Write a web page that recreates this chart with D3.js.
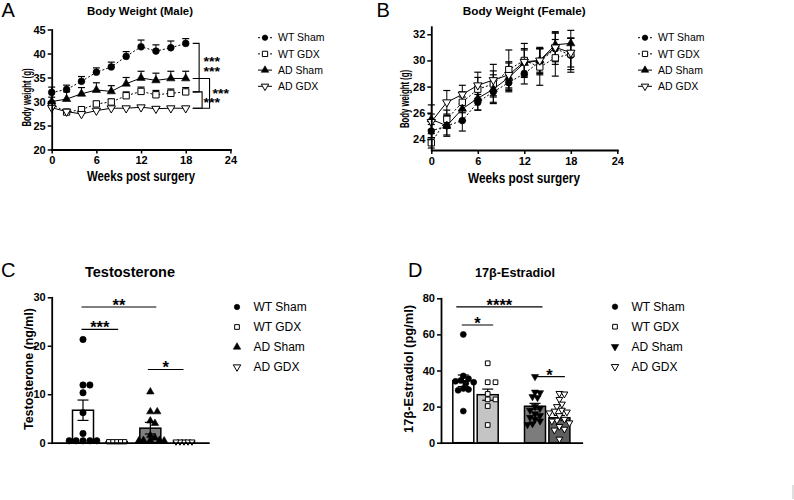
<!DOCTYPE html>
<html>
<head>
<meta charset="utf-8">
<script src="https://cdn.jsdelivr.net/npm/d3@7"></script>
<style>
  body { margin: 0; background: #fff; }
  svg { font-family: "Liberation Sans", Arial, sans-serif; }
</style>
</head>
<body>
<svg width="794" height="500"></svg>
<script>
// ---- data ----
var weeks = [0, 2, 4, 6, 8, 10, 12, 14, 16, 18];
var groups = ["WT Sham", "WT GDX", "AD Sham", "AD GDX"];
var weekTicks = [0, 6, 12, 18, 24];

// A: male body weight (g), mean and sem
var maleWTSham    = [31.9, 32.5, 34.2, 36.1, 37.2, 39.4, 41.4, 40.5, 41.2, 42.1];
var maleWTShamErr = [1.1, 0.9, 1.0, 0.9, 1.0, 1.0, 1.4, 1.3, 1.4, 1.0];
var maleWTGDX     = [29.4, 27.8, 28.3, 29.5, 29.9, 31.2, 32.1, 31.4, 31.7, 32.0];
var maleWTGDXErr  = [0.6, 0.3, 0.5, 0.5, 0.6, 0.8, 0.9, 0.9, 0.9, 0.9];
var maleADSham    = [30.0, 30.5, 31.6, 32.4, 32.1, 33.7, 34.9, 34.4, 34.8, 34.8];
var maleADShamErr = [0.9, 1.5, 1.3, 1.5, 1.2, 1.3, 1.4, 1.5, 1.5, 1.5];
var maleADGDX     = [28.7, 27.9, 27.4, 28.1, 28.6, 28.6, 28.8, 28.5, 28.6, 28.6];
var maleADGDXErr  = [0.3, 0.3, 0.3, 0.3, 0.3, 0.3, 0.3, 0.3, 0.3, 0.3];
var maleTicks = [20, 25, 30, 35, 40, 45];

// B: female body weight (g), mean and sem
var femWTSham    = [24.6, 25.0, 25.4, 26.8, 27.6, 28.3, 29.0, 29.9, 30.9, 30.4];
var femWTShamErr = [0.5, 0.7, 0.8, 0.6, 0.8, 0.6, 0.8, 1.0, 1.2, 1.3];
var femWTGDX     = [23.7, 25.5, 26.8, 27.8, 28.2, 29.3, 30.0, 29.5, 30.2, 30.5];
var femWTGDXErr  = [0.4, 0.7, 0.8, 0.9, 1.0, 1.5, 1.3, 1.4, 1.4, 1.2];
var femADSham    = [25.5, 25.0, 26.3, 27.1, 27.8, 28.7, 29.8, 30.0, 31.2, 31.3];
var femADShamErr = [1.1, 0.8, 0.9, 0.9, 1.1, 1.1, 1.0, 0.9, 1.0, 1.0];
var femADGDX     = [25.3, 26.8, 27.4, 28.1, 28.5, 28.9, 29.9, 30.0, 31.0, 30.6];
var femADGDXErr  = [0.6, 0.9, 0.7, 1.0, 1.2, 1.0, 1.0, 1.0, 1.1, 1.1];
var femTicks = [24, 26, 28, 30, 32];

// C: testosterone (ng/ml)
var testoWTSham = [21.3, 11.9, 11.9, 10.3, 6.2, 1.9, 0.4, 0.4, 0.4, 0.4, 0.4];
var testoWTGDX  = [0.2, 0.2, 0.2, 0.2, 0.2];
var testoADSham = [10.5, 6.4, 6.4, 4.5, 4.0, 1.5, 1.0, 0.5, 0.5, 0.5, 0.4, 0.4];
var testoADGDX  = [0.2, 0.2, 0.2, 0.2, 0.2];
var testoMean = [6.7, 0.2, 3.0, 0.2];
var testoSem  = [2.1, 0.05, 1.2, 0.05];
var testoTicks = [0, 10, 20, 30];

// D: 17b-estradiol (pg/ml)
var estWTSham = [60, 37, 35.5, 34.5, 34, 33.5, 33, 30, 29.5, 29, 17.5];
var estWTGDX  = [44, 33.5, 33.5, 27, 24, 24, 20.3, 9.8];
var estADSham = [36.6, 28, 27.7, 25.5, 25, 20, 19, 18, 16, 15, 14, 13, 12, 10.5, 10];
var estADGDX  = [27.3, 27, 24, 21.4, 20, 18, 17.5, 17, 16.5, 15, 13, 12.5, 12, 11, 9, 7.5, 7, 2];
var estMean = [34.3, 26.6, 20.2, 13.8];
var estSem  = [3.2, 3.1, 1.6, 1.3];
var estTicks = [0, 20, 40, 60, 80];

var svg = d3.select("svg");

var shapes = { circle: d3.symbolCircle, square: d3.symbolSquare, up: d3.symbolTriangle, down: d3.symbolTriangle };
var lineShapes = ["circle", "square", "up", "down"];
var lineOpen = [false, true, false, true];
var lineDash = ["2,2", "2,2", null, null];

function putMarker(parent, x, y, shape, size, open) {
  return parent.append("path")
    .attr("d", d3.symbol().type(shapes[shape]).size(size)())
    .attr("transform", "translate(" + x + "," + y + ")" + (shape == "down" ? " rotate(180)" : ""))
    .attr("fill", open ? "#fff" : "#000")
    .attr("stroke", "#000")
    .attr("stroke-width", open ? 1 : 0.6);
}

function styleAxis(a) {
  a.attr("font-family", null).attr("font-size", null);
  a.select(".domain").attr("stroke-width", 1.8).attr("stroke-linecap", "square");
  a.selectAll(".tick line").attr("stroke-width", 1.5);
  a.selectAll(".tick text").attr("font-weight", "bold").attr("font-size", 11).attr("fill", "#000");
}

function label(x, y, txt, size, weight, anchor, len) {
  var t = svg.append("text").attr("x", x).attr("y", y).text(txt)
    .attr("font-size", size).attr("font-weight", weight || "normal")
    .attr("text-anchor", anchor || "start");
  if (len) t.attr("textLength", len).attr("lengthAdjust", "spacingAndGlyphs");
  return t;
}

function vLabel(cx, cy, txt, size, len) {
  var t = svg.append("text")
    .attr("transform", "translate(" + cx + "," + cy + ") rotate(-90)")
    .attr("dy", "0.35em").attr("text-anchor", "middle")
    .attr("font-size", size).attr("font-weight", "bold").text(txt);
  if (len) t.attr("textLength", len).attr("lengthAdjust", "spacingAndGlyphs");
}

// ---- line panels (A, B) ----
function linePanel(p) {
  var g = svg.append("g");
  var line = d3.line().x(function(d, i) { return p.x(weeks[i]); }).y(function(d) { return p.y(d); });

  p.series.forEach(function(s) {
    s.mean.forEach(function(m, i) {
      var cx = p.x(weeks[i]);
      var top = p.y(m + s.err[i]);
      var bot = p.twoSided ? p.y(m - s.err[i]) : p.y(m);
      g.append("line").attr("x1", cx).attr("x2", cx).attr("y1", top).attr("y2", bot)
        .attr("stroke", "#000").attr("stroke-width", 1);
      g.append("line").attr("x1", cx - 3.5).attr("x2", cx + 3.5).attr("y1", top).attr("y2", top)
        .attr("stroke", "#000").attr("stroke-width", 1.2);
      if (p.twoSided)
        g.append("line").attr("x1", cx - 3.5).attr("x2", cx + 3.5).attr("y1", bot).attr("y2", bot)
          .attr("stroke", "#000").attr("stroke-width", 1.2);
    });
  });
  p.series.forEach(function(s, k) {
    g.append("path").attr("d", line(s.mean)).attr("fill", "none")
      .attr("stroke", "#000").attr("stroke-width", 1)
      .attr("stroke-dasharray", lineDash[k]);
  });
  p.series.forEach(function(s, k) {
    s.mean.forEach(function(m, i) {
      putMarker(g, p.x(weeks[i]), p.y(m), lineShapes[k], k == 0 ? 36 : (k == 1 ? 40 : 30), lineOpen[k]);
    });
  });

  var ax = g.append("g").attr("transform", "translate(0," + p.y.range()[0] + ")")
    .call(d3.axisBottom(p.x).tickValues(weekTicks).tickSize(4).tickSizeOuter(0).tickPadding(3));
  styleAxis(ax);
  var ay = g.append("g").attr("transform", "translate(" + p.x.range()[0] + ",0)")
    .call(d3.axisLeft(p.y).tickValues(p.ticks).tickSize(4).tickSizeOuter(0).tickPadding(2));
  styleAxis(ay);

  // legend
  groups.forEach(function(name, k) {
    var ly = p.legY + k * 16.2;
    svg.append("line").attr("x1", p.legX - 7).attr("x2", p.legX + 7).attr("y1", ly).attr("y2", ly)
      .attr("stroke", "#000").attr("stroke-width", 1).attr("stroke-dasharray", lineDash[k]);
    putMarker(svg, p.legX, ly, lineShapes[k], k == 1 ? 28 : 24, lineOpen[k]);
    label(p.legX + 13, ly, name, 10.5).attr("dy", "0.35em");
  });
}

var xA = d3.scaleLinear().domain([0, 24]).range([51.7, 230.4]);
var yA = d3.scaleLinear().domain([20, 45]).range([149.5, 29.5]);
var maleSeries = [
  { mean: maleWTSham, err: maleWTShamErr },
  { mean: maleWTGDX, err: maleWTGDXErr },
  { mean: maleADSham, err: maleADShamErr },
  { mean: maleADGDX, err: maleADGDXErr }
];
linePanel({ x: xA, y: yA, series: maleSeries, ticks: maleTicks, twoSided: false, legX: 265, legY: 37.7 });

var xB = d3.scaleLinear().domain([0, 24]).range([431.3, 617.3]);
var yB = d3.scaleLinear().domain([23.15, 32.58]).range([150, 26.7]);
var femSeries = [
  { mean: femWTSham, err: femWTShamErr },
  { mean: femWTGDX, err: femWTGDXErr },
  { mean: femADSham, err: femADShamErr },
  { mean: femADGDX, err: femADGDXErr }
];
linePanel({ x: xB, y: yB, series: femSeries, ticks: femTicks, twoSided: true, legX: 645, legY: 37.7 });

// significance brackets on A (series index pairs, bracket position in weeks)
var maleBrackets = [{ a: 0, b: 1, at: 19.8 }, { a: 1, b: 3, at: 20.2 }, { a: 2, b: 3, at: 21.2 }];
var last = weeks.length - 1;
maleBrackets.forEach(function(br) {
  var x0 = xA(weeks[last]) + 7, xv = xA(br.at);
  var ya = yA(maleSeries[br.a].mean[last]), yb = yA(maleSeries[br.b].mean[last]);
  svg.append("path").attr("d", "M" + x0 + "," + ya + "H" + xv + "V" + yb + "H" + x0)
    .attr("fill", "none").attr("stroke", "#000").attr("stroke-width", 1.1);
});
// stars stacked in one text block
var maleStars = [{ w: 21.5, g: 38.9 }, { w: 21.5, g: 36.8 }, { w: 22.7, g: 32.2 }, { w: 21.5, g: 30.3 }];
var starText = svg.append("text").attr("font-size", 12).attr("font-weight", "bold").attr("text-anchor", "middle");
maleStars.forEach(function(s) {
  starText.append("tspan").attr("x", xA(s.w)).attr("y", yA(s.g) + 7)
    .attr("textLength", 16.5).attr("lengthAdjust", "spacingAndGlyphs").text("***");
});

// ---- bar panels (C, D) ----
var barShapes = { C: ["circle", "square", "up", "down"], D: ["circle", "square", "down", "down"] };
var barOpen = [false, true, false, true];

function swarm(vals, y, cx, minDist) {
  var placed = [], out = new Array(vals.length);
  var order = vals.map(function(v, i) { return i; }).sort(function(a, b) { return vals[b] - vals[a]; });
  order.forEach(function(i) {
    var py = y(vals[i]);
    for (var k = 0; k < 60; k++) {
      var off = (k % 2 ? 1 : -1) * Math.ceil(k / 2) * minDist / 2;
      var px = cx + off;
      var ok = placed.every(function(p) { return Math.hypot(p[0] - px, p[1] - py) >= minDist; });
      if (ok) { placed.push([px, py]); out[i] = [px, py]; break; }
    }
  });
  return out;
}

function barPanel(p) {
  var g = svg.append("g");
  var bw = 21;
  p.points.forEach(function(vals, k) {
    var cx = p.cx[k];
    var top = p.y(p.mean[k]);
    g.append("rect").attr("x", cx - bw / 2).attr("y", top).attr("width", bw)
      .attr("height", p.y(0) - top).attr("fill", p.fills[k]).attr("stroke", "#000").attr("stroke-width", 1.5);
    var e1 = p.y(p.mean[k] + p.sem[k]), e2 = p.y(p.mean[k] - p.sem[k]);
    g.append("line").attr("x1", cx).attr("x2", cx).attr("y1", e1).attr("y2", e2).attr("stroke", "#000").attr("stroke-width", 1.2);
    [e1, e2].forEach(function(ey) {
      g.append("line").attr("x1", cx - 5.5).attr("x2", cx + 5.5).attr("y1", ey).attr("y2", ey).attr("stroke", "#000").attr("stroke-width", 1.2);
    });
    var pos = swarm(vals, p.y, cx, p.dist[k]);
    pos.forEach(function(q) {
      putMarker(g, q[0], q[1], p.shapes[k], p.sizes[k], barOpen[k]);
    });
  });

  var ax = g.append("g").attr("transform", "translate(0," + p.y(0) + ")")
    .call(d3.axisBottom(d3.scaleLinear().range([p.x0, p.x1])).tickValues([]).tickSizeOuter(0));
  styleAxis(ax);
  var ay = g.append("g").attr("transform", "translate(" + p.x0 + ",0)")
    .call(d3.axisLeft(p.y).tickValues(p.ticks).tickSize(4).tickSizeOuter(0).tickPadding(2));
  styleAxis(ay);

  p.sig.forEach(function(s) {
    var xa = p.cx[s.a] + s.l, xb = p.cx[s.b] + s.r, yy = p.y(s.v);
    svg.append("line").attr("x1", xa).attr("x2", xb).attr("y1", yy).attr("y2", yy)
      .attr("stroke", "#000").attr("stroke-width", 1.2);
    label((xa + xb) / 2, yy + 3.9, s.t, 16, "bold", "middle", s.t.length * 6.4);
  });

  groups.forEach(function(name, k) {
    var ly = p.legY + k * 20;
    putMarker(svg, p.legX, ly, p.shapes[k], k == 1 ? 22 : 24, barOpen[k]);
    label(p.legX + 16.5, ly, name, 12).attr("dy", "0.35em");
  });
}

var yC = d3.scaleLinear().domain([0, 30]).range([442.7, 297.3]);
var xC = d3.scalePoint().domain(groups).range([83, 184]);
barPanel({
  y: yC, x0: 51.7, x1: 208.3, ticks: testoTicks,
  cx: groups.map(function(d) { return xC(d); }),
  points: [testoWTSham, testoWTGDX, testoADSham, testoADGDX],
  mean: testoMean, sem: testoSem,
  fills: ["#fff", "#fff", "#7f7f7f", "#fff"],
  shapes: barShapes.C, sizes: [32, 18, 24, 16], dist: [4.6, 4, 4.6, 4],
  sig: [{ a: 0, b: 1, v: 23.4, t: "***", l: -1.5, r: 1.5 },
        { a: 0, b: 2, v: 28.0, t: "**", l: -1.5, r: 6 },
        { a: 2, b: 3, v: 15.1, t: "*", l: -2.5, r: -0.5 }],
  legX: 237, legY: 307
});

var yD = d3.scaleLinear().domain([0, 80]).range([442.7, 298.3]);
var xPair = d3.scalePoint().domain(["WT", "AD"]).range([475.5, 547.2]);
var xInner = d3.scalePoint().domain(["Sham", "GDX"]).range([-12.2, 12.2]);
barPanel({
  y: yD, x0: 441, x1: 581.7, ticks: estTicks,
  cx: groups.map(function(d) { var s = d.split(" "); return xPair(s[0]) + xInner(s[1]); }),
  points: [estWTSham, estWTGDX, estADSham, estADGDX],
  mean: estMean, sem: estSem,
  fills: ["#fff", "#c4c4c4", "#7c7c7c", "#5e5e5e"],
  shapes: barShapes.D, sizes: [28, 22, 22, 20], dist: [5.2, 5.2, 5, 5],
  sig: [{ a: 0, b: 2, v: 75.3, t: "****", l: -7, r: 7.5 },
        { a: 0, b: 1, v: 65.2, t: "*", l: -1.5, r: 5.5 },
        { a: 2, b: 3, v: 36.6, t: "*", l: -1, r: 5.5 }],
  legX: 615, legY: 306.7
});

// ---- titles and axis labels ----
label(140, 14.5, "Body Weight (Male)", 11.5, "bold", "middle", 106);
label(524.3, 14.5, "Body Weight (Female)", 11.5, "bold", "middle", 123);
label(141, 181, "Weeks post surgery", 14.5, "bold", "middle", 108);
label(524, 183, "Weeks post surgery", 14.5, "bold", "middle", 112);
vLabel(26.7, 97.5, "Body weight (g)", 12, 58);
vLabel(405, 99, "Body weight (g)", 12, 58);
label(130, 277, "Testosterone", 14, "bold", "middle", 90);
label(515, 277, "17\u03b2-Estradiol", 13, "bold", "middle", 80);
vLabel(29, 369, "Testosterone (ng/ml)", 12.5, 122);
vLabel(408.3, 369, "17\u03b2-Estradiol (pg/ml)", 12.5, 128);

label(1.5, 17, "A", 20);
label(376.5, 17, "B", 20);
label(1, 277, "C", 20);
label(408, 277, "D", 20);

// faint scan edge at bottom right
svg.append("line").attr("x1", 793).attr("x2", 793).attr("y1", 485).attr("y2", 499)
  .attr("stroke", "#d4d4d4").attr("stroke-width", 1.5);
</script>
</body>
</html>
